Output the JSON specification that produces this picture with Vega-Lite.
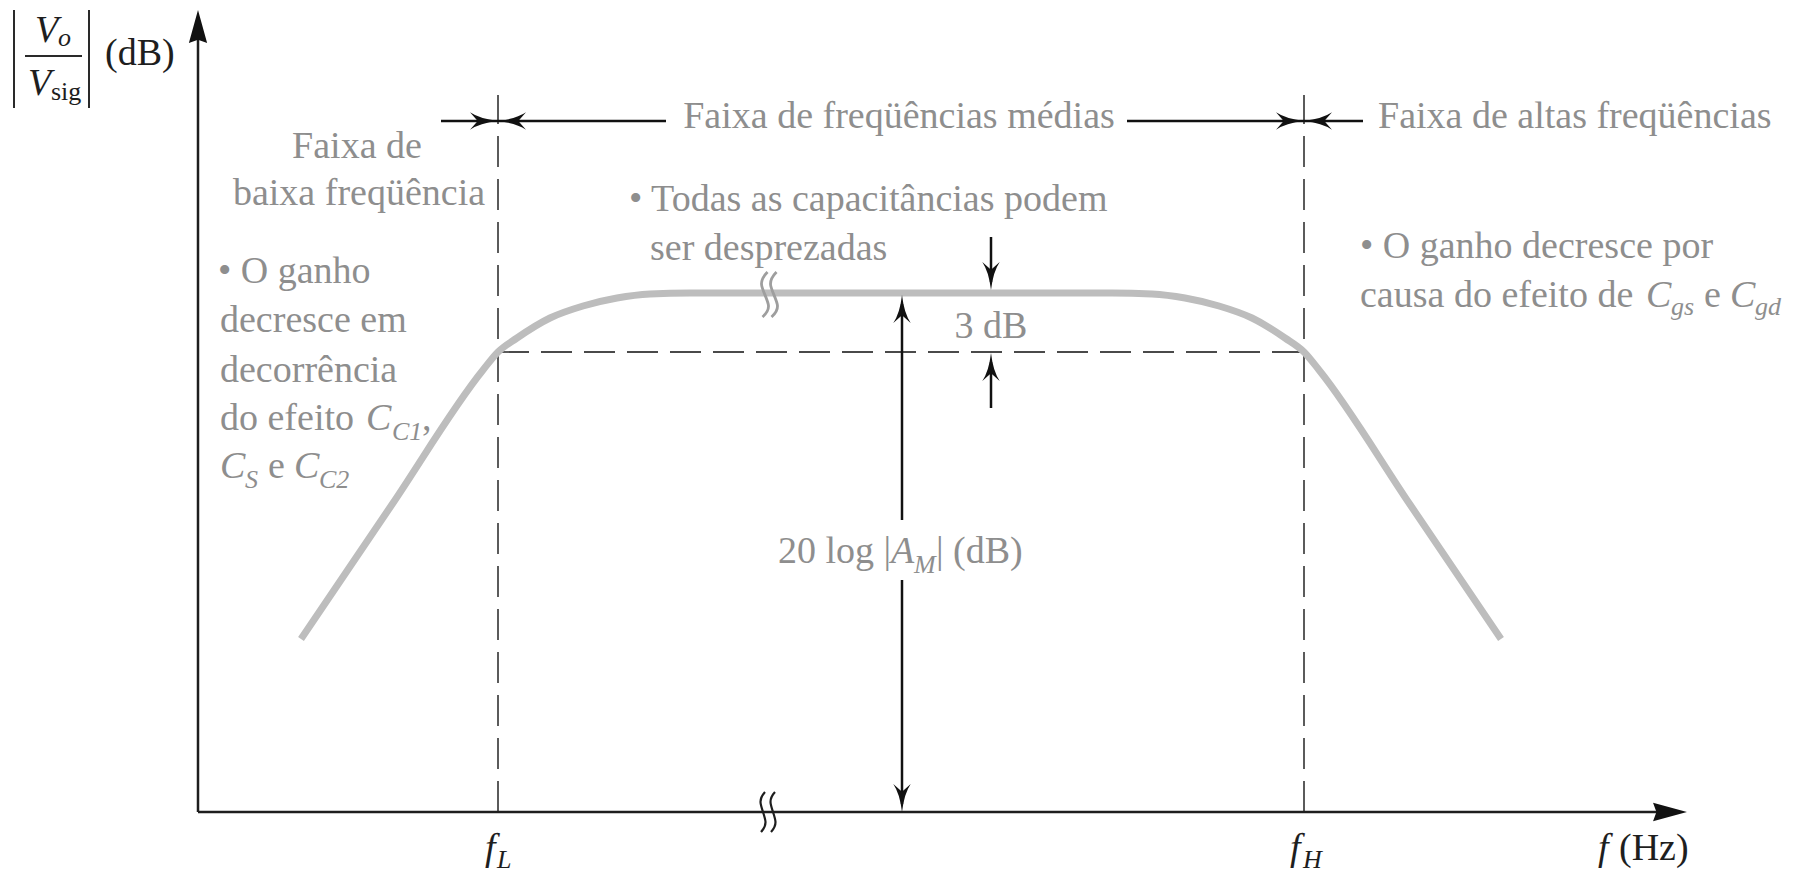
{
  "$schema": "https://vega.github.io/schema/vega-lite/v6.json",
  "width": 1800,
  "height": 874,
  "autosize": {"type": "fit", "contains": "padding"},
  "padding": 0,
  "background": "white",
  "config": {"view": {"stroke": null}, "text": {"font": "Liberation Serif"}},
  "datasets": {
    "response": [
      {"x": 10.3, "y": 17.3}, {"x": 19.4, "y": 30.75}, {"x": 28.5, "y": 44.2},
      {"x": 30.0, "y": 46.0}, {"x": 31.9, "y": 47.4}, {"x": 35.2, "y": 49.4}, {"x": 38.5, "y": 50.6},
      {"x": 41.9, "y": 51.4}, {"x": 45.2, "y": 51.8}, {"x": 49.2, "y": 51.9}, {"x": 70.3, "y": 51.9},
      {"x": 91.4, "y": 51.9}, {"x": 95.4, "y": 51.8}, {"x": 98.7, "y": 51.4}, {"x": 102.1, "y": 50.6},
      {"x": 105.4, "y": 49.4}, {"x": 108.7, "y": 47.4}, {"x": 110.6, "y": 46.0}, {"x": 112.1, "y": 44.2},
      {"x": 121.2, "y": 30.75}, {"x": 130.3, "y": 17.3}
    ],
    "axes": [
      {"x": 0, "y": 0, "x2": 0, "y2": 78},
      {"x": 0, "y": 0, "x2": 146.5, "y2": 0}
    ],
    "labelRules": [
      {"x": -18.4, "y": 80.2, "x2": -18.4, "y2": 70.4},
      {"x": -10.9, "y": 80.2, "x2": -10.9, "y2": 70.4},
      {"x": -17.3, "y": 75.6, "x2": -11.6, "y2": 75.6}
    ],
    "guides": [
      {"x": 30.0, "y": 0, "x2": 30.0, "y2": 71.7},
      {"x": 110.6, "y": 0, "x2": 110.6, "y2": 71.7},
      {"x": 30.0, "y": 46.0, "x2": 110.6, "y2": 46.0}
    ],
    "dimensions": [
      {"x": 24.3, "y": 69.1, "x2": 46.8, "y2": 69.1},
      {"x": 92.9, "y": 69.1, "x2": 116.5, "y2": 69.1},
      {"x": 79.3, "y": 57.5, "x2": 79.3, "y2": 53.0},
      {"x": 79.3, "y": 40.4, "x2": 79.3, "y2": 45.0},
      {"x": 70.4, "y": 29.2, "x2": 70.4, "y2": 50.8},
      {"x": 70.4, "y": 23.2, "x2": 70.4, "y2": 0.8}
    ],
    "axisHeads": [
      {"x": 0, "y": 78.55, "pointing": "up"},
      {"x": 147.2, "y": 0, "pointing": "right"}
    ],
    "dimHeads": [
      {"x": 28.6, "y": 69.1, "pointing": "right"},
      {"x": 109.2, "y": 69.1, "pointing": "right"},
      {"x": 31.4, "y": 69.1, "pointing": "left"},
      {"x": 112.0, "y": 69.1, "pointing": "left"},
      {"x": 79.3, "y": 53.6, "pointing": "down"},
      {"x": 70.4, "y": 1.4, "pointing": "down"},
      {"x": 79.3, "y": 44.5, "pointing": "up"},
      {"x": 70.4, "y": 50.3, "pointing": "up"}
    ],
    "curveBreak": [
      {"id": 1, "k": 1, "x": 56.95, "y": 54.0}, {"id": 1, "k": 2, "x": 56.35, "y": 52.8},
      {"id": 1, "k": 3, "x": 57.05, "y": 50.6}, {"id": 1, "k": 4, "x": 56.45, "y": 49.5},
      {"id": 2, "k": 1, "x": 57.85, "y": 54.0}, {"id": 2, "k": 2, "x": 57.25, "y": 52.8},
      {"id": 2, "k": 3, "x": 57.95, "y": 50.6}, {"id": 2, "k": 4, "x": 57.35, "y": 49.5}
    ],
    "axisBreak": [
      {"id": 1, "k": 1, "x": 56.7, "y": 2.0}, {"id": 1, "k": 2, "x": 56.25, "y": 1.0},
      {"id": 1, "k": 3, "x": 56.75, "y": -1.0}, {"id": 1, "k": 4, "x": 56.3, "y": -2.0},
      {"id": 2, "k": 1, "x": 57.7, "y": 2.0}, {"id": 2, "k": 2, "x": 57.25, "y": 1.0},
      {"id": 2, "k": 3, "x": 57.75, "y": -1.0}, {"id": 2, "k": 4, "x": 57.3, "y": -2.0}
    ],
    "centredNotes": [
      {"text": "Faixa de freqüências médias", "x": 70.1, "y": 68.4},
      {"text": "Faixa de", "x": 15.9, "y": 65.4},
      {"text": "baixa freqüência", "x": 16.1, "y": 60.7},
      {"text": "3 dB", "x": 79.3, "y": 47.4}
    ],
    "notes": [
      {"text": "Faixa de altas freqüências", "x": 118.0, "y": 68.4},
      {"text": "• Todas as capacitâncias podem", "x": 43.1, "y": 60.1},
      {"text": "ser desprezadas", "x": 45.2, "y": 55.2},
      {"text": "• O ganho", "x": 2.0, "y": 52.9},
      {"text": "decresce em", "x": 2.2, "y": 48.05},
      {"text": "decorrência", "x": 2.2, "y": 43.05},
      {"text": "do efeito", "x": 2.2, "y": 38.2},
      {"text": ",", "x": 22.4, "y": 38.2},
      {"text": "e", "x": 7.0, "y": 33.4},
      {"text": "• O ganho decresce por", "x": 116.2, "y": 55.4},
      {"text": "causa do efeito de", "x": 116.2, "y": 50.5},
      {"text": "e", "x": 150.6, "y": 50.5},
      {"text": "20 log |", "x": 58.0, "y": 24.9},
      {"text": "| (dB)", "x": 73.8, "y": 24.9}
    ],
    "noteSymbols": [
      {"text": "C", "x": 16.8, "y": 38.2},
      {"text": "C", "x": 2.2, "y": 33.4},
      {"text": "C", "x": 9.6, "y": 33.4},
      {"text": "C", "x": 144.8, "y": 50.5},
      {"text": "C", "x": 153.2, "y": 50.5},
      {"text": "A", "x": 69.3, "y": 24.9}
    ],
    "noteIndices": [
      {"text": "C1", "x": 19.4, "y": 37.2},
      {"text": "S", "x": 4.7, "y": 32.4},
      {"text": "C2", "x": 12.1, "y": 32.4},
      {"text": "gs", "x": 147.3, "y": 49.7},
      {"text": "gd", "x": 155.7, "y": 49.7},
      {"text": "M", "x": 71.6, "y": 23.9}
    ],
    "axisText": [
      {"text": "(Hz)", "x": 142.1, "y": -4.8},
      {"text": "(dB)", "x": -9.3, "y": 74.7}
    ],
    "axisSymbols": [
      {"text": "f", "x": 28.7, "y": -4.8},
      {"text": "f", "x": 109.2, "y": -4.8},
      {"text": "f", "x": 140.0, "y": -4.8},
      {"text": "V", "x": -16.3, "y": 77.0},
      {"text": "V", "x": -17.0, "y": 71.7}
    ],
    "axisIndices": [
      {"text": "L", "x": 29.9, "y": -5.6},
      {"text": "H", "x": 110.5, "y": -5.6},
      {"text": "o", "x": -14.0, "y": 76.6}
    ],
    "axisUprightIndices": [
      {"text": "sig", "x": -14.7, "y": 71.2}
    ]
  },
  "encoding": {
    "x": {"field": "x", "type": "quantitative", "axis": null,
          "scale": {"domain": [-19.8, 160.2], "nice": false, "zero": false}},
    "y": {"field": "y", "type": "quantitative", "axis": null,
          "scale": {"domain": [-6.2, 81.2], "nice": false, "zero": false}}
  },
  "layer": [
    {
      "data": {"name": "guides"},
      "mark": {"type": "rule", "color": "#4a4a4a", "strokeWidth": 1.8, "strokeDash": [31, 12]},
      "encoding": {"x2": {"field": "x2"}, "y2": {"field": "y2"}}
    },
    {
      "data": {"name": "response"},
      "mark": {"type": "line", "color": "#bdbdbd", "strokeWidth": 7, "interpolate": "monotone"},
      "encoding": {}
    },
    {
      "data": {"name": "curveBreak"},
      "mark": {"type": "line", "color": "#9e9e9e", "strokeWidth": 2.8, "interpolate": "cardinal"},
      "encoding": {"detail": {"field": "id"}, "order": {"field": "k"}}
    },
    {
      "data": {"name": "axes"},
      "mark": {"type": "rule", "color": "#1e1e1e", "strokeWidth": 2.5},
      "encoding": {"x2": {"field": "x2"}, "y2": {"field": "y2"}}
    },
    {
      "data": {"name": "axisBreak"},
      "mark": {"type": "line", "color": "#1e1e1e", "strokeWidth": 2.2, "interpolate": "cardinal"},
      "encoding": {"detail": {"field": "id"}, "order": {"field": "k"}}
    },
    {
      "data": {"name": "labelRules"},
      "mark": {"type": "rule", "color": "#2a2a2a", "strokeWidth": 2},
      "encoding": {"x2": {"field": "x2"}, "y2": {"field": "y2"}}
    },
    {
      "data": {"name": "dimensions"},
      "mark": {"type": "rule", "color": "#111111", "strokeWidth": 2.5},
      "encoding": {"x2": {"field": "x2"}, "y2": {"field": "y2"}}
    },
    {
      "data": {"name": "axisHeads"},
      "transform": [{"filter": "datum.pointing === 'up'"}],
      "mark": {"type": "point", "filled": true, "color": "#111111", "opacity": 1, "size": 1100, "angle": 270,
               "shape": "M1,0 L-1,-0.55 L-0.8,0 L-1,0.55 Z"},
      "encoding": {}
    },
    {
      "data": {"name": "axisHeads"},
      "transform": [{"filter": "datum.pointing === 'right'"}],
      "mark": {"type": "point", "filled": true, "color": "#111111", "opacity": 1, "size": 1150, "angle": 0,
               "shape": "M1,0 L-1,-0.55 L-0.8,0 L-1,0.55 Z"},
      "encoding": {}
    },
    {
      "data": {"name": "dimHeads"},
      "transform": [{"filter": "datum.pointing === 'right'"}],
      "mark": {"type": "point", "filled": true, "color": "#111111", "opacity": 1, "size": 784, "angle": 0,
               "shape": "M1,0 Q-0.3,-0.15 -1,-0.62 L-0.45,0 L-1,0.62 Q-0.3,0.15 1,0 Z"},
      "encoding": {}
    },
    {
      "data": {"name": "dimHeads"},
      "transform": [{"filter": "datum.pointing === 'left'"}],
      "mark": {"type": "point", "filled": true, "color": "#111111", "opacity": 1, "size": 784, "angle": 180,
               "shape": "M1,0 Q-0.3,-0.15 -1,-0.62 L-0.45,0 L-1,0.62 Q-0.3,0.15 1,0 Z"},
      "encoding": {}
    },
    {
      "data": {"name": "dimHeads"},
      "transform": [{"filter": "datum.pointing === 'down'"}],
      "mark": {"type": "point", "filled": true, "color": "#111111", "opacity": 1, "size": 784, "angle": 90,
               "shape": "M1,0 Q-0.3,-0.15 -1,-0.62 L-0.45,0 L-1,0.62 Q-0.3,0.15 1,0 Z"},
      "encoding": {}
    },
    {
      "data": {"name": "dimHeads"},
      "transform": [{"filter": "datum.pointing === 'up'"}],
      "mark": {"type": "point", "filled": true, "color": "#111111", "opacity": 1, "size": 784, "angle": 270,
               "shape": "M1,0 Q-0.3,-0.15 -1,-0.62 L-0.45,0 L-1,0.62 Q-0.3,0.15 1,0 Z"},
      "encoding": {}
    },
    {
      "data": {"name": "centredNotes"},
      "mark": {"type": "text", "font": "Liberation Serif", "fontSize": 38, "color": "#8e8e8e", "align": "center", "baseline": "alphabetic"},
      "encoding": {"text": {"field": "text"}}
    },
    {
      "data": {"name": "notes"},
      "mark": {"type": "text", "font": "Liberation Serif", "fontSize": 38, "color": "#8e8e8e", "align": "left", "baseline": "alphabetic"},
      "encoding": {"text": {"field": "text"}}
    },
    {
      "data": {"name": "noteSymbols"},
      "mark": {"type": "text", "font": "Liberation Serif", "fontSize": 38, "fontStyle": "italic", "color": "#8e8e8e", "align": "left", "baseline": "alphabetic"},
      "encoding": {"text": {"field": "text"}}
    },
    {
      "data": {"name": "noteIndices"},
      "mark": {"type": "text", "font": "Liberation Serif", "fontSize": 26, "fontStyle": "italic", "color": "#8e8e8e", "align": "left", "baseline": "alphabetic"},
      "encoding": {"text": {"field": "text"}}
    },
    {
      "data": {"name": "axisText"},
      "mark": {"type": "text", "font": "Liberation Serif", "fontSize": 38, "color": "#1e1e1e", "align": "left", "baseline": "alphabetic"},
      "encoding": {"text": {"field": "text"}}
    },
    {
      "data": {"name": "axisSymbols"},
      "mark": {"type": "text", "font": "Liberation Serif", "fontSize": 38, "fontStyle": "italic", "color": "#1e1e1e", "align": "left", "baseline": "alphabetic"},
      "encoding": {"text": {"field": "text"}}
    },
    {
      "data": {"name": "axisIndices"},
      "mark": {"type": "text", "font": "Liberation Serif", "fontSize": 26, "fontStyle": "italic", "color": "#1e1e1e", "align": "left", "baseline": "alphabetic"},
      "encoding": {"text": {"field": "text"}}
    },
    {
      "data": {"name": "axisUprightIndices"},
      "mark": {"type": "text", "font": "Liberation Serif", "fontSize": 26, "color": "#1e1e1e", "align": "left", "baseline": "alphabetic"},
      "encoding": {"text": {"field": "text"}}
    }
  ]
}
